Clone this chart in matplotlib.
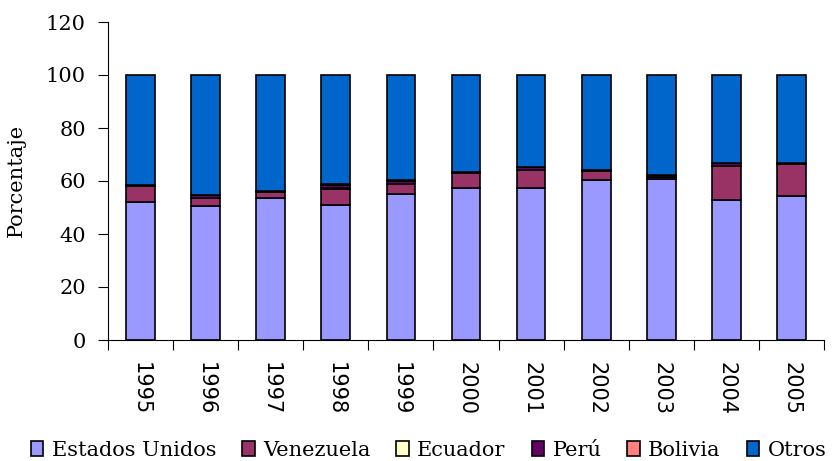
import matplotlib
matplotlib.use("Agg")
import matplotlib.pyplot as plt
import numpy as np

years = ["1995", "1996", "1997", "1998", "1999", "2000", "2001", "2002", "2003", "2004", "2005"]
estados_unidos = [52.2, 50.6, 53.7, 50.8, 55.1, 57.5, 57.5, 60.4, 60.6, 52.8, 54.5]
venezuela = [5.9, 3.0, 2.0, 6.3, 3.7, 5.4, 6.5, 3.4, 0.9, 12.9, 12.0]
ecuador = [0.1, 0.1, 0.1, 0.1, 0.1, 0.1, 0.1, 0.1, 0.1, 0.1, 0.1]
peru = [0.3, 1.1, 0.5, 1.4, 1.2, 0.2, 1.2, 0.2, 0.5, 1.0, 0.2]
bolivia = [0.1, 0.1, 0.1, 0.1, 0.1, 0.1, 0.1, 0.1, 0.1, 0.1, 0.1]
otros = [41.4, 45.1, 43.6, 41.3, 39.8, 36.7, 34.6, 35.8, 37.8, 33.1, 33.1]

series = [
    ("Estados Unidos", estados_unidos, "#9999FF"),
    ("Venezuela", venezuela, "#993366"),
    ("Ecuador", ecuador, "#FFFFCC"),
    ("Perú", peru, "#660066"),
    ("Bolivia", bolivia, "#FF8080"),
    ("Otros", otros, "#0066CC"),
]

fig = plt.figure(figsize=(8.34, 4.61), dpi=100)
ax = fig.add_axes([108/834, 1-340/461, (824-108)/834, (340-22)/461])

x = np.arange(len(years))
bottom = np.zeros(len(years))
handles = []
for name, vals, col in series:
    b = ax.bar(x, vals, width=0.44, bottom=bottom, color=col, edgecolor="black",
               linewidth=1.2, label=name)
    bottom += np.array(vals)
    handles.append(b)

ax.set_xlim(-0.5, len(years) - 0.5)
ax.set_ylim(0, 120)
ax.set_yticks(range(0, 121, 20))
ax.tick_params(axis="y", direction="out", length=7, width=0.8, pad=9)
for lab in ax.get_yticklabels():
    lab.set_fontfamily("DejaVu Serif")
    lab.set_fontsize(15)

ax.set_xticks(np.arange(-0.5, len(years), 1.0))
ax.set_xticklabels([])
ax.tick_params(axis="x", which="major", direction="out", length=7, width=0.8)
ax.set_xticks(x, minor=True)
ax.set_xticklabels(years, minor=True, rotation=-90, fontsize=15,
                   fontfamily="DejaVu Sans", va="top", ha="center")
ax.tick_params(axis="x", which="minor", length=0, pad=16)

for s in ["top", "right"]:
    ax.spines[s].set_visible(False)
for s in ["left", "bottom"]:
    ax.spines[s].set_linewidth(0.8)

ax.set_ylabel("Porcentaje", fontfamily="DejaVu Serif", fontsize=15)
ax.yaxis.set_label_coords(-0.115, 0.503)

leg = fig.legend(handles=handles, loc="center", bbox_to_anchor=(0.514, 1-450/461),
                 ncol=6, frameon=False, handlelength=0.6, handleheight=0.75,
                 handletextpad=0.4, columnspacing=1.25,
                 prop={"family": "DejaVu Serif", "size": 15})

fig.savefig("out.png", dpi=100)
